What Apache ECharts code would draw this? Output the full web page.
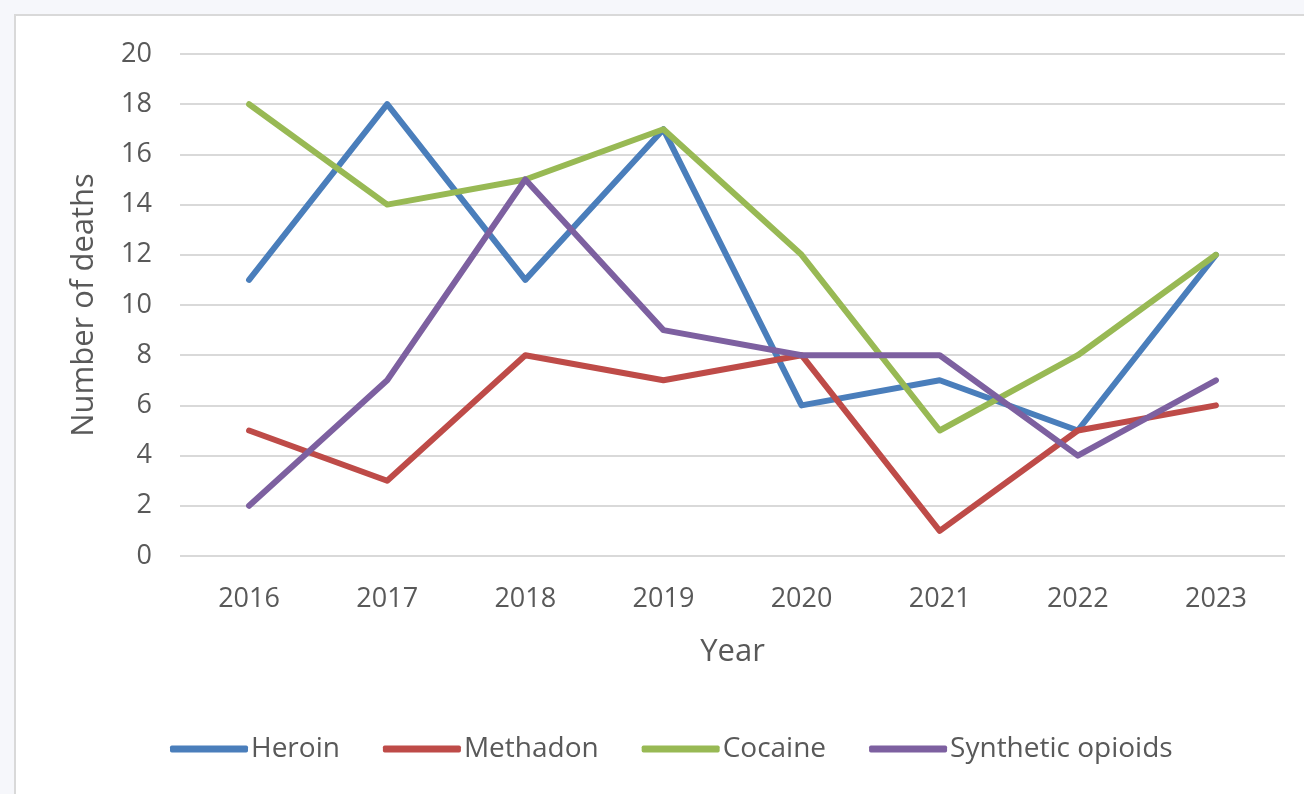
<!DOCTYPE html>
<html>
<head>
<meta charset="utf-8">
<script src="https://cdn.jsdelivr.net/npm/echarts@6/dist/echarts.min.js"></script>
<style>
html,body{margin:0;padding:0;width:1304px;height:794px;background:#f6f7fb;overflow:hidden;}
#frame{position:absolute;left:14px;top:14px;width:1290px;height:780px;background:#fff;border-top:2px solid #d9d9d9;border-left:2px solid #d9d9d9;}
#main{position:absolute;left:-16px;top:-16px;width:1304px;height:794px;}
</style>
</head>
<body>
<div id="frame"><div id="main"></div></div>
<script>
const years = ['2016','2017','2018','2019','2020','2021','2022','2023'];
const heroin = [11, 18, 11, 17, 6, 7, 5, 12];
const methadon = [5, 3, 8, 7, 8, 1, 5, 6];
const cocaine = [18, 14, 15, 17, 12, 5, 8, 12];
const synthetic = [2, 7, 15, 9, 8, 8, 4, 7];
const seriesNames = ['Heroin', 'Methadon', 'Cocaine', 'Synthetic opioids'];
const colors = ['#4a7ebb', '#be4b48', '#98b954', '#7d60a0'];

const font = '"Open Sans", "Noto Sans", sans-serif';
const chart = echarts.init(document.getElementById('main'));
const mk = (name, data, i) => ({
  name, type: 'line', data, showSymbol: false, symbol: 'none',
  lineStyle: { width: 6, color: colors[i], cap: 'round', join: 'round' },
  itemStyle: { color: colors[i] },
  z: 2 + i
});
chart.setOption({
  animation: false,
  backgroundColor: 'transparent',
  grid: { left: 180, right: 19, top: 54, bottom: 238 },
  xAxis: {
    type: 'category', data: years, boundaryGap: true,
    name: 'Year', nameLocation: 'middle', nameGap: 81,
    nameTextStyle: { fontSize: 31, color: '#595959', fontFamily: font },
    axisLine: { show: false }, axisTick: { show: false },
    axisLabel: { fontSize: 27, color: '#595959', fontFamily: font, margin: 30 }
  },
  yAxis: {
    type: 'value', min: 0, max: 20, interval: 2,
    name: 'Number of deaths', nameLocation: 'middle', nameGap: 80,
    nameTextStyle: { fontSize: 31, color: '#595959', fontFamily: font },
    axisLine: { show: false }, axisTick: { show: false },
    axisLabel: { fontSize: 27, color: '#595959', fontFamily: font, margin: 28 },
    splitLine: { lineStyle: { color: '#d9d9d9', width: 2 } }
  },
  legend: {
    data: seriesNames, top: 730, left: 165,
    itemWidth: 78, itemHeight: 7, itemGap: 43,
    icon: 'roundRect',
    textStyle: { fontSize: 28, color: '#595959', fontFamily: font, padding: [0,0,0,-2] }
  },
  series: [mk(seriesNames[0], heroin, 0), mk(seriesNames[1], methadon, 1), mk(seriesNames[2], cocaine, 2), mk(seriesNames[3], synthetic, 3)]
});
</script>
</body>
</html>
